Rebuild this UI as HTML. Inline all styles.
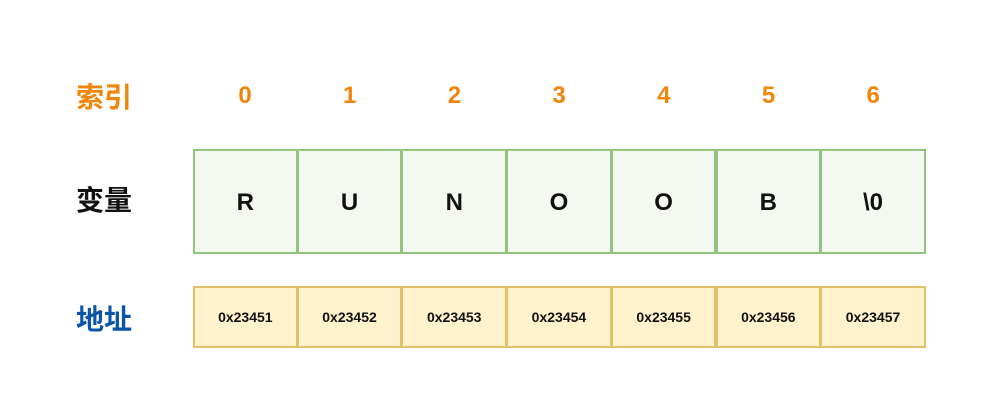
<!DOCTYPE html>
<html><head><meta charset="utf-8"><style>
body{margin:0;background:#fff;width:1000px;height:403px;position:relative;overflow:hidden;font-family:"Liberation Sans","Noto Sans CJK SC",sans-serif;font-weight:bold}
.a{position:absolute;text-align:center}
.lbl{position:absolute;left:70px;width:68px;font-size:28px;text-align:center}
.cell{position:absolute;box-sizing:border-box;display:flex;align-items:center;justify-content:center}
.v{top:149px;height:105px;background:#f3f8f1;border:2px solid #93c47d;font-size:24px;color:#111}
.ad{top:286px;height:62px;background:#fff2cc;border:2px solid #e0c068;font-size:14px;color:#111}
.idx{top:82px;width:104px;font-size:24px;color:#f0850a}
</style></head><body>
<div class="lbl" style="top:76px;color:#f0850a">索引</div>
<div class="lbl" style="top:179px;color:#111">变量</div>
<div class="lbl" style="top:298px;color:#0b55a8">地址</div>
<div id="c"></div>
<script>
const indices=["0","1","2","3","4","5","6"];
const values=["R","U","N","O","O","B","\\0"];
const addrs=["0x23451","0x23452","0x23453","0x23454","0x23455","0x23456","0x23457"];
const c=document.getElementById('c');
const x0=193,w=104.7;
indices.forEach((t,i)=>{
 const x=x0+i*w;
 const d=document.createElement('div');d.className='a idx';d.style.left=x+'px';d.textContent=t;
 
 
 c.appendChild(d);
 const v=document.createElement('div');v.className='cell v';v.style.left=(x-(i?1:0))+'px';v.style.width=(w+(i?1:0))+'px';v.style.paddingTop='2px';v.textContent=values[i];
 
 
 c.appendChild(v);
 const a=document.createElement('div');a.className='cell ad';a.style.left=(x-(i?1:0))+'px';a.style.width=(w+(i?1:0))+'px';a.textContent=addrs[i];
 
 
 c.appendChild(a);
});
</script>
</body></html>
